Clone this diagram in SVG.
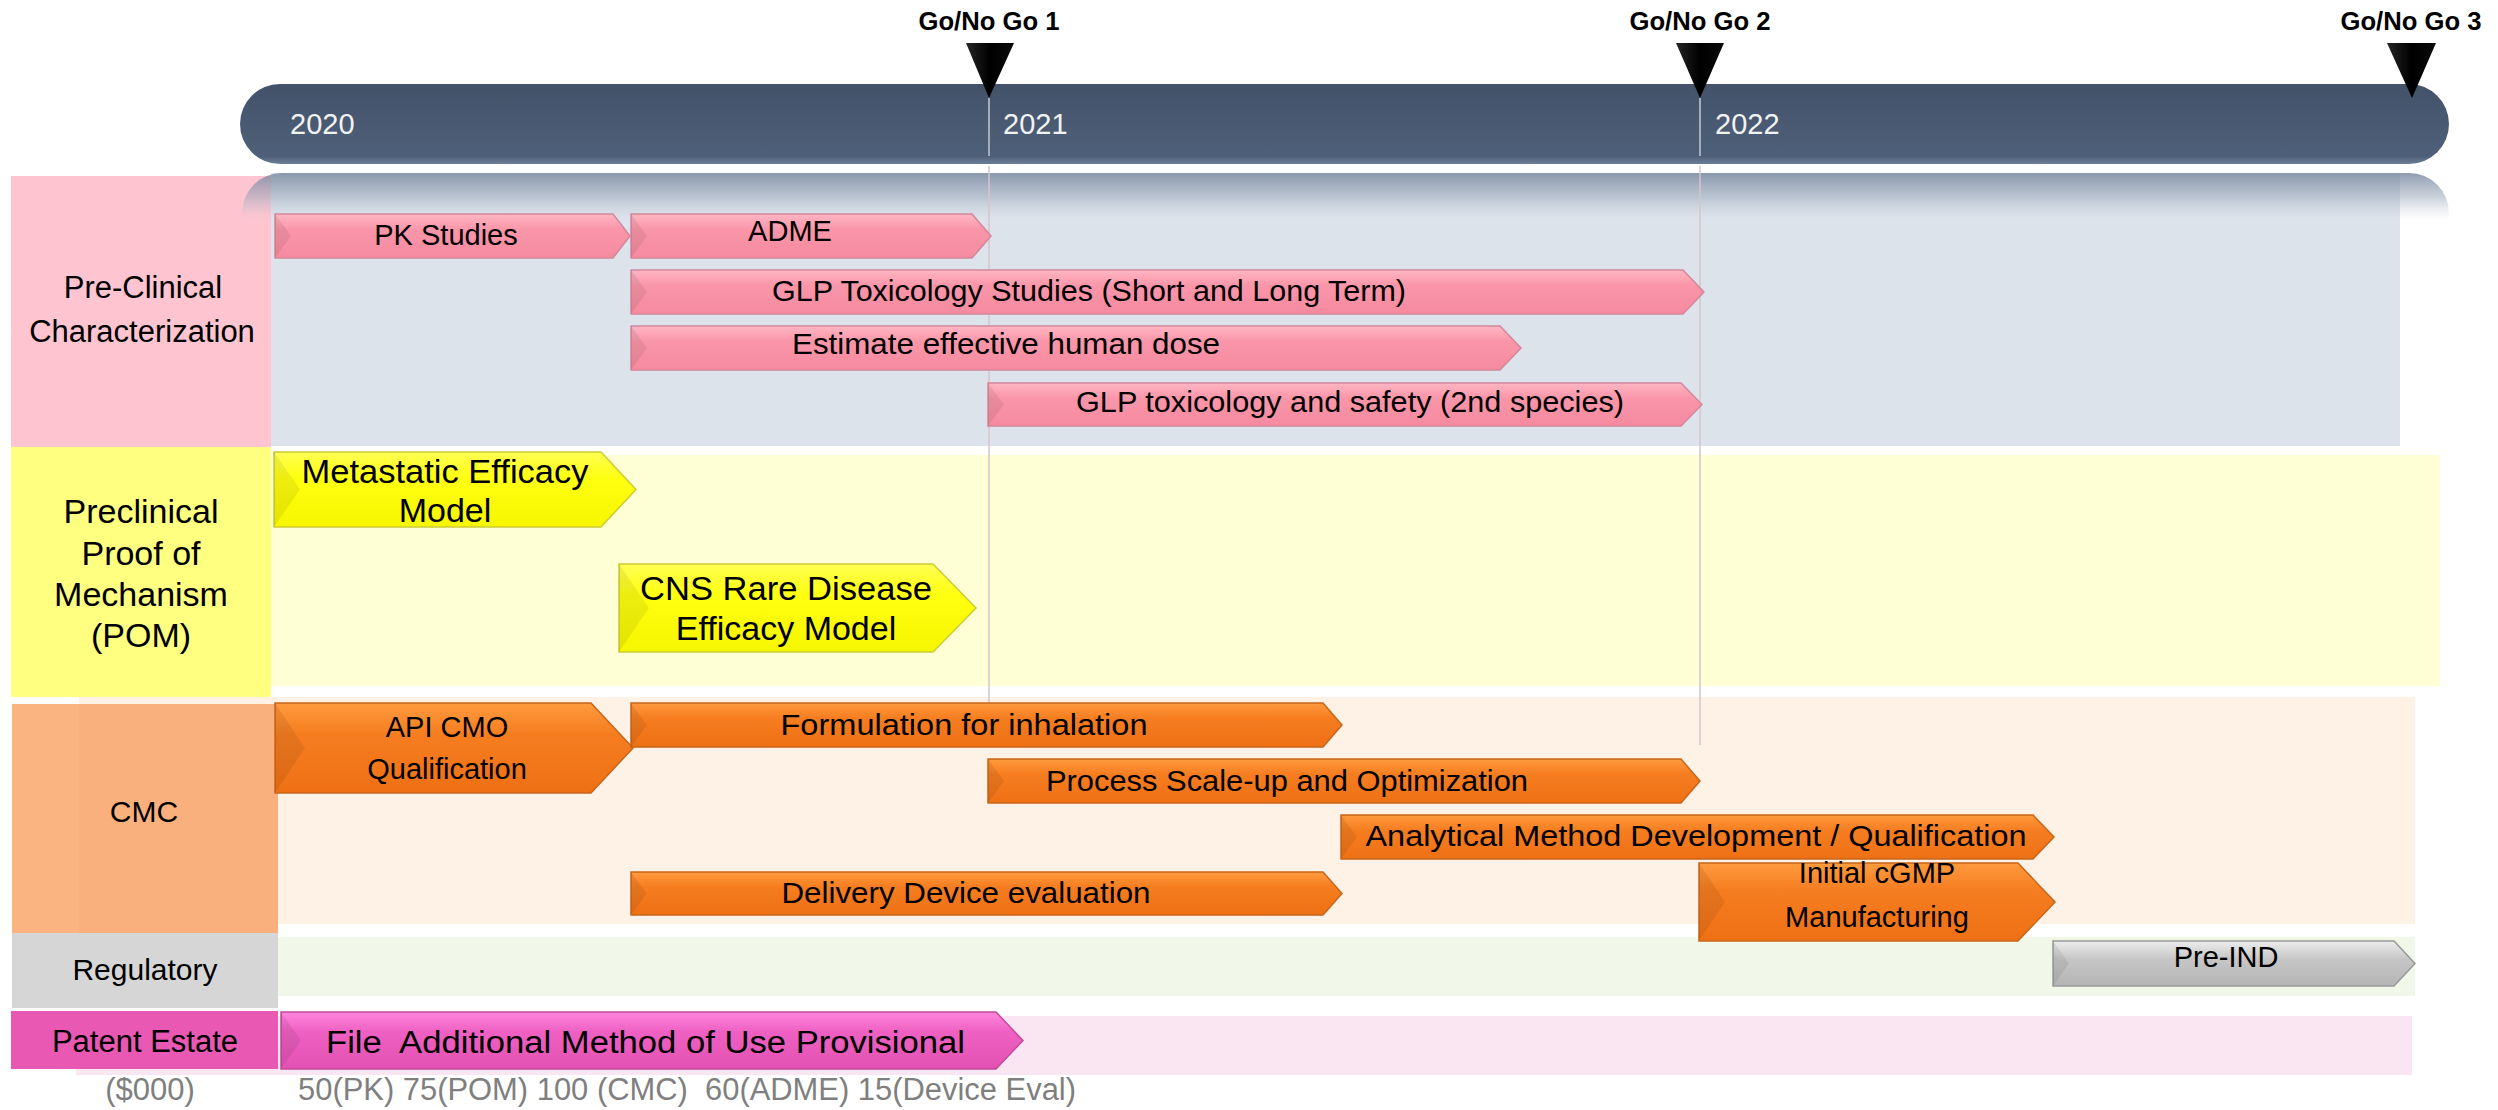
<svg xmlns="http://www.w3.org/2000/svg" width="2498" height="1110" viewBox="0 0 2498 1110">
<defs>
<style>
text{font-family:"Liberation Sans",Arial,sans-serif;fill:#000}
.mid{text-anchor:middle}
.bt{font-size:29px;text-anchor:middle}
.pom{font-size:34px;text-anchor:middle}
.lab{font-size:30px;text-anchor:middle}
.yr{font-size:29px;fill:#f2f2f2}
.ms{font-size:26px;font-weight:bold;text-anchor:middle}
.gray{font-size:31px;fill:#7f7f7f}
.pink{fill:url(#gPink);stroke:#d4879a;stroke-width:1.5}
.orng{fill:url(#gOrange);stroke:#c8661a;stroke-width:1.5}
.yel{fill:url(#gYellow);stroke:#cccc33;stroke-width:1.5}
.gry{fill:url(#gGray);stroke:#999;stroke-width:1.5}
.mag{fill:url(#gMag);stroke:#c24a9c;stroke-width:1.5}
.bev{fill:#000;opacity:.07}
.tri{fill:url(#gTri)}
.vl{stroke:#d6c3cc;stroke-width:1.5}
.vlb{stroke:#a3adbd;stroke-width:2}
</style>
<linearGradient id="gPink" x1="0" y1="0" x2="0" y2="1"><stop offset="0" stop-color="#ffb6c4"/><stop offset=".35" stop-color="#fa96a9"/><stop offset="1" stop-color="#f58aa0"/></linearGradient>
<linearGradient id="gOrange" x1="0" y1="0" x2="0" y2="1"><stop offset="0" stop-color="#ff9b3e"/><stop offset=".35" stop-color="#f57d20"/><stop offset="1" stop-color="#ef7014"/></linearGradient>
<linearGradient id="gYellow" x1="0" y1="0" x2="0" y2="1"><stop offset="0" stop-color="#ffff55"/><stop offset=".35" stop-color="#ffff10"/><stop offset="1" stop-color="#f6f600"/></linearGradient>
<linearGradient id="gGray" x1="0" y1="0" x2="0" y2="1"><stop offset="0" stop-color="#ededed"/><stop offset=".4" stop-color="#c6c6c6"/><stop offset="1" stop-color="#b4b4b4"/></linearGradient>
<linearGradient id="gMag" x1="0" y1="0" x2="0" y2="1"><stop offset="0" stop-color="#ff86dc"/><stop offset=".35" stop-color="#ee60c2"/><stop offset="1" stop-color="#e352b2"/></linearGradient>
<linearGradient id="gBar" x1="0" y1="0" x2="0" y2="1"><stop offset="0" stop-color="#435269"/><stop offset=".9" stop-color="#4e6079"/><stop offset="1" stop-color="#6c7d95"/></linearGradient>
<linearGradient id="gRefl" x1="0" y1="0" x2="0" y2="1"><stop offset="0" stop-color="#7b8aa1" stop-opacity=".85"/><stop offset=".3" stop-color="#95a3b6" stop-opacity=".5"/><stop offset=".6" stop-color="#c6cfdb" stop-opacity="0"/></linearGradient>
<linearGradient id="gTri" x1="0" y1="0" x2="1" y2="0"><stop offset="0" stop-color="#262626"/><stop offset=".5" stop-color="#000"/><stop offset="1" stop-color="#0a0a0a"/></linearGradient>
</defs>
<rect width="2498" height="1110" fill="#fff"/>

<g id="lanes">
<rect id="bg-preclin" x="271" y="173" width="2129" height="273" fill="#dde3eb"/>
<rect id="bg-pom" x="271" y="455" width="2169" height="231" fill="#ffffd6"/>
<rect id="bg-cmc" x="79" y="697" width="2336" height="227" fill="#fef1e5"/>
<rect id="bg-reg" x="278" y="937" width="2137" height="59" fill="#f1f8ea"/>
<rect id="bg-pat" x="76" y="1016" width="2336" height="59" fill="#fae6f2"/>
</g>

<g id="lane-labels">
<g id="lab-preclin"><rect x="11" y="176" width="260" height="272" fill="#fec5d0"/><text class="lab" x="143" y="298" style="font-size:31px">Pre-Clinical</text><text class="lab" x="142" y="342" style="font-size:31px">Characterization</text></g>
<g id="lab-pom"><rect x="11" y="447" width="260" height="250" fill="#ffff80"/><text class="pom" x="141" y="523">Preclinical</text><text class="pom" x="141" y="565">Proof of</text><text class="pom" x="141" y="606">Mechanism</text><text class="pom" x="141" y="647">(POM)</text></g>
<g id="lab-cmc"><rect x="12" y="704" width="266" height="229" fill="#f9b07c"/><rect x="12" y="704" width="67" height="229" fill="#fff" opacity=".05"/><text class="lab" x="144" y="822">CMC</text></g>
<g id="lab-reg"><rect x="12" y="933" width="266" height="75" fill="#d6d6d6"/><text class="lab" x="145" y="980">Regulatory</text></g>
<g id="lab-pat"><rect x="11" y="1011" width="267" height="58" fill="#e958b3"/><text class="lab" x="145" y="1052" style="font-size:31px">Patent Estate</text></g>
</g>

<g id="timeline">
<rect x="240" y="84" width="2209" height="80" rx="40" ry="40" fill="url(#gBar)"/>
<rect x="242" y="173" width="2207" height="80" rx="40" ry="40" fill="url(#gRefl)"/>
<text class="yr" x="290" y="134">2020</text>
<text class="yr" x="1003" y="134">2021</text>
<text class="yr" x="1715" y="134">2022</text>
</g>

<g id="connectors">
<line class="vlb" x1="989" y1="98" x2="989" y2="156"/>
<line class="vl" x1="989" y1="166" x2="989" y2="703"/>
<line class="vlb" x1="1700" y1="98" x2="1700" y2="156"/>
<line class="vl" x1="1700" y1="166" x2="1700" y2="745"/>
</g>

<g id="milestones">
<g id="gng1"><polygon class="tri" points="966,43 1014,43 989,98"/><text class="ms" x="989" y="30" textLength="141" lengthAdjust="spacingAndGlyphs">Go/No Go 1</text></g>
<g id="gng2"><polygon class="tri" points="1676,43 1724,43 1700,98"/><text class="ms" x="1700" y="30" textLength="141" lengthAdjust="spacingAndGlyphs">Go/No Go 2</text></g>
<g id="gng3"><polygon class="tri" points="2387,43 2436,43 2412,98"/><text class="ms" x="2411" y="30" textLength="141" lengthAdjust="spacingAndGlyphs">Go/No Go 3</text></g>
</g>

<g id="task-pk"><path class="pink" d="M275,214H613L630,236L613,258H275Z"/><path class="bev" d="M275,214L291,236L275,258Z"/><text class="bt" x="446" y="245">PK Studies</text></g>
<g id="task-adme"><path class="pink" d="M631,214H972L991,236L972,258H631Z"/><path class="bev" d="M631,214L647,236L631,258Z"/><text class="bt" x="790" y="241">ADME</text></g>
<g id="task-glptox"><path class="pink" d="M631,270H1683L1704,292L1683,314H631Z"/><path class="bev" d="M631,270L647,292L631,314Z"/><text class="bt" x="1089" y="301" textLength="634" lengthAdjust="spacingAndGlyphs">GLP Toxicology Studies (Short and Long Term)</text></g>
<g id="task-dose"><path class="pink" d="M631,326H1500L1521,348L1500,370H631Z"/><path class="bev" d="M631,326L647,348L631,370Z"/><text class="bt" x="1006" y="354" textLength="428" lengthAdjust="spacingAndGlyphs">Estimate effective human dose</text></g>
<g id="task-glp2"><path class="pink" d="M988,383H1681L1702,404.5L1681,426H988Z"/><path class="bev" d="M988,383L1004,404.5L988,426Z"/><text class="bt" x="1350" y="412" textLength="548" lengthAdjust="spacingAndGlyphs">GLP toxicology and safety (2nd species)</text></g>

<g id="task-meta"><path class="yel" d="M274,452H601L636,489.5L601,527H274Z"/><path class="bev" d="M274,452L300,489.5L274,527Z"/><text class="pom" x="445" y="483" textLength="287" lengthAdjust="spacingAndGlyphs">Metastatic Efficacy</text><text class="pom" x="445" y="522">Model</text></g>
<g id="task-cns"><path class="yel" d="M619,564H933L976,608L933,652H619Z"/><path class="bev" d="M619,564L649,608L619,652Z"/><text class="pom" x="786" y="600" textLength="292" lengthAdjust="spacingAndGlyphs">CNS Rare Disease</text><text class="pom" x="786" y="640">Efficacy Model</text></g>

<g id="task-api"><path class="orng" d="M275,703H591L633,748L591,793H275Z"/><path class="bev" d="M275,703L305,748L275,793Z"/><text class="bt" x="447" y="737">API CMO</text><text class="bt" x="447" y="779">Qualification</text></g>
<g id="task-form"><path class="orng" d="M631,703H1323L1342,725L1323,747H631Z"/><path class="bev" d="M631,703L647,725L631,747Z"/><text class="bt" x="964" y="735" textLength="367" lengthAdjust="spacingAndGlyphs">Formulation for inhalation</text></g>
<g id="task-process"><path class="orng" d="M988,759H1681L1700,781L1681,803H988Z"/><path class="bev" d="M988,759L1004,781L988,803Z"/><text class="bt" x="1287" y="791" textLength="482" lengthAdjust="spacingAndGlyphs">Process Scale-up and Optimization</text></g>
<g id="task-analytical"><path class="orng" d="M1341,815H2033L2054,837L2033,859H1341Z"/><path class="bev" d="M1341,815L1357,837L1341,859Z"/><text class="bt" x="1696" y="846" textLength="661" lengthAdjust="spacingAndGlyphs">Analytical Method Development / Qualification</text></g>
<g id="task-device"><path class="orng" d="M631,872H1323L1342,893.5L1323,915H631Z"/><path class="bev" d="M631,872L647,893.5L631,915Z"/><text class="bt" x="966" y="903" textLength="369" lengthAdjust="spacingAndGlyphs">Delivery Device evaluation</text></g>
<g id="task-cgmp"><path class="orng" d="M1699,863H2018L2055,902L2018,941H1699Z"/><path class="bev" d="M1699,863L1725,902L1699,941Z"/><text class="bt" x="1877" y="883">Initial cGMP</text><text class="bt" x="1877" y="927">Manufacturing</text></g>

<g id="task-preind"><path class="gry" d="M2053,941H2394L2415,963.5L2394,986H2053Z"/><path class="bev" d="M2053,941L2069,963.5L2053,986Z"/><text class="bt" x="2226" y="967">Pre-IND</text></g>

<g id="task-patent"><path class="mag" d="M281,1012H996L1023,1040.5L996,1069H281Z"/><path class="bev" d="M281,1012L301,1040.5L281,1069Z"/><text x="326" y="1053" style="font-size:31px" xml:space="preserve" textLength="639" lengthAdjust="spacingAndGlyphs">File  Additional Method of Use Provisional</text></g>

<g id="budget">
<text class="gray mid" x="150" y="1100">($000)</text>
<text class="gray" x="298" y="1100" xml:space="preserve" textLength="778" lengthAdjust="spacingAndGlyphs">50(PK) 75(POM) 100 (CMC)  60(ADME) 15(Device Eval)</text>
</g>
</svg>
